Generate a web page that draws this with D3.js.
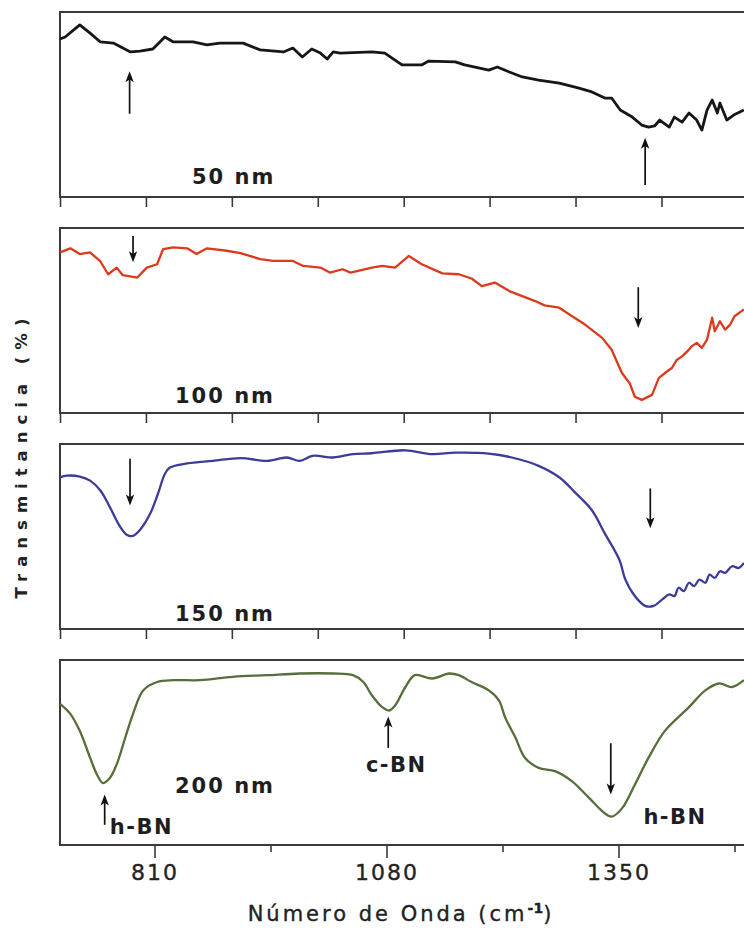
<!DOCTYPE html>
<html>
<head>
<meta charset="utf-8">
<script src="https://cdn.jsdelivr.net/npm/d3@7/dist/d3.min.js"></script>
<style>
  html, body { margin: 0; padding: 0; background: #ffffff; }
  svg { display: block; }
</style>
</head>
<body>
<script>
// ---------------- DATA ----------------
const thicknessLabels = ["50 nm", "100 nm", "150 nm", "200 nm"];
const seriesColors = ["#161616", "#dc3a1c", "#3c3c98", "#566e3a"];

// 50 nm
const wave50  = [700,706,723,735,747,762,782,793,808,822,832,855,871,886,913,933,960,971,982,993,1003,1011,1018,1026,1063,1078,1098,1121,1129,1160,1171,1199,1209,1223,1238,1257,1281,1304,1319,1334,1342,1352,1366,1377,1385,1392,1398,1409,1415,1424,1432,1441,1447,1453,1459,1465,1468,1476,1484,1496];
const trans50 = [85.4,86.5,93,88.6,83.8,83.2,78.4,78.9,80,86.5,83.8,83.8,82.2,83.2,83.2,79.5,78.4,80.5,75.7,80,77.8,74.6,78.4,77.8,78.4,77.8,71.4,71.4,73.5,73,71.4,68.6,70.3,67.6,64.9,63.2,61.6,58.9,56.8,53.5,53.5,47,43.2,38.9,37.8,38.4,41.6,37.8,43.2,40.5,45.4,41.6,36.2,47,52.4,45.4,50.8,41.6,44.3,47];

// 100 nm
const wave100  = [700,712,723,735,747,756,766,773,790,801,813,820,832,848,859,871,894,910,933,948,971,983,1003,1014,1029,1038,1063,1075,1090,1106,1121,1145,1164,1179,1191,1206,1223,1238,1253,1264,1281,1296,1311,1331,1342,1354,1363,1369,1377,1389,1397,1404,1412,1418,1424,1430,1435,1441,1447,1453,1459,1462,1468,1474,1480,1485,1496];
const trans100 = [86.8,89,85.9,86.8,81.9,75,78.6,74.5,73.2,78.6,80.4,88.6,89.5,89,85.9,89,87.7,86.4,83.2,82.2,82.2,79.5,78.6,75.9,77.7,75.9,78.6,79.5,78.6,84.9,80.4,75.5,75,72.7,68.6,70.5,65.9,63.2,60.5,58.2,56.9,52.3,47.8,40.6,34.2,21.6,16.1,8.8,7.1,9.8,19,21.6,24.3,28.8,30.6,33.3,36,37.9,35.2,39.7,51.5,44.2,49.6,45.1,47.8,52.3,56];

// 150 nm
const wave150  = [700,708,723,735,747,758,770,778,785,793,805,814,822,828,848,878,910,941,964,979,994,1018,1041,1063,1102,1133,1160,1199,1226,1257,1281,1299,1319,1334,1351,1358,1369,1381,1391,1401,1409,1415,1420,1426,1432,1438,1444,1451,1456,1462,1468,1474,1482,1490,1496];
const trans150 = [82,82.9,82.4,80.2,74.9,65.9,55.2,50.8,50.3,53.5,62.4,73.1,83.8,87.3,89.5,90.9,92.4,90.9,92.7,90.9,93.6,92.7,94.5,95,96.6,94.5,95.3,94.8,92.7,88.2,82,74,64.2,51.7,37.4,26.7,17.8,12.5,12.5,16,18.7,17.8,22.3,20.5,25,23.2,26.7,25,29.4,27.6,31.2,30.3,33.9,33,35.7];

// 200 nm
const wave200  = [700,712,723,735,743,750,758,766,776,785,797,813,832,863,901,941,979,1018,1041,1053,1063,1075,1083,1090,1102,1113,1133,1153,1164,1179,1199,1211,1218,1230,1241,1257,1276,1296,1316,1334,1342,1354,1369,1385,1404,1432,1451,1467,1482,1496];
const trans200 = [76.3,70.9,61.7,47.2,38.1,33.5,36.2,43.6,58.1,70.9,83.6,88.1,89.1,89.1,90.9,91.8,92.7,92.7,91.8,88.1,80.9,74.5,72.7,75.4,85.4,91.8,90,92.7,91.8,88.1,83.6,78.1,69,58.1,47.2,41.7,39.9,34.4,25.3,17.1,15.3,19.8,32.6,47.2,61.7,74.5,83.6,87.3,85.4,89.1];

// arrows: [panel, wavenumber, tail value, head value]
const arrowPanel = [0, 0, 1, 1, 2, 2, 3, 3, 3];
const arrowWave  = [781, 1381, 785, 1373, 781.5, 1387, 752, 1082, 1341];
const arrowTail  = [45, 6.5, 95.7, 68, 92, 76, 10.9, 52.5, 55];
const arrowHead  = [68, 32, 81.5, 46, 66.8, 54.5, 27.3, 69.5, 27.3];

// phase labels in bottom panel
const phaseText = ["h-BN", "c-BN", "h-BN"];
const phaseWave = [758, 1056, 1379];
const phaseVal  = [5.9, 39.3, 11.5];

const topTickValues = d3.range(700, 1501, 100);
const bottomTickValues = [810, 945, 1080, 1215, 1350, 1485];
const bottomTickLabels = [810, 1080, 1350];

const xLabel = "Número de Onda (cm";
const xLabelSup = "-1";
const yLabel = "Transmitancia (%)";

// ---------------- LAYOUT ----------------
const W = 744, H = 937;
const left = 60, right = 747.4;
const panelTop0 = 12, panelH = 185, panelStep = 216;

const svg = d3.select("body").append("svg").attr("width", W).attr("height", H);

const x = d3.scaleLinear().domain([700, 1500]).range([left, right]);

const waves = [wave50, wave100, wave150, wave200];
const trans = [trans50, trans100, trans150, trans200];
const labelX = [192, 175, 175, 175];
const labelOff = [172, 175, 177, 133];
const curves = [d3.curveLinear, d3.curveLinear, d3.curveCatmullRom, d3.curveCatmullRom];

const yScales = [];
for (let i = 0; i < 4; i++) {
  const top = panelTop0 + i * panelStep;
  const bottom = top + panelH;
  const y = d3.scaleLinear().domain([0, 100]).range([bottom, top]);
  yScales.push(y);
  const g = svg.append("g");

  // frame
  g.append("rect")
    .attr("x", left).attr("y", top)
    .attr("width", right - left + 5).attr("height", panelH)
    .attr("fill", "none").attr("stroke", "#3a3a3a").attr("stroke-width", 2);

  // curve
  const pts = waves[i].map((w, k) => [w, trans[i][k]]);
  const line = d3.line().x(d => x(d[0])).y(d => y(d[1])).curve(curves[i]);
  g.append("path").datum(pts)
    .attr("d", line)
    .attr("fill", "none")
    .attr("stroke", seriesColors[i])
    .attr("stroke-width", i === 0 ? 2.8 : 2.3)
    .attr("stroke-linejoin", "round");

  // axis
  const isBottom = i === 3;
  const axis = d3.axisBottom(x)
    .tickValues(isBottom ? bottomTickValues : topTickValues)
    .tickSize(isBottom ? 13 : 10)
    .tickFormat(d => (isBottom && bottomTickLabels.includes(d)) ? String(d) : "");
  const ag = g.append("g").attr("transform", `translate(0,${bottom})`).call(axis);
  ag.select(".domain").remove();
  ag.selectAll(".tick line").attr("stroke", "#3a3a3a").attr("stroke-width", 1.6);
  if (isBottom) {
    ag.selectAll(".tick").filter(d => !bottomTickLabels.includes(d))
      .select("line").attr("y2", 7);
    ag.selectAll(".tick text")
      .attr("y", 35).attr("dy", 0)
      .attr("fill", "#222")
      .style("font-family", "'DejaVu Sans', Verdana, sans-serif")
      .style("font-size", "22px")
      .style("letter-spacing", "2px")
      .attr("stroke", "#222").attr("stroke-width", 0.35);
  }

  // thickness label
  g.append("text")
    .attr("x", labelX[i]).attr("y", top + labelOff[i])
    .text(thicknessLabels[i])
    .attr("fill", "#1e1e1e")
    .style("font-family", "'DejaVu Sans', Verdana, sans-serif")
    .style("font-weight", "bold")
    .style("font-size", "21px")
    .style("letter-spacing", "2px");
}

// arrows
arrowWave.forEach((w, k) => {
  const y = yScales[arrowPanel[k]];
  const xx = x(w);
  const y0 = y(arrowTail[k]);
  const y1 = y(arrowHead[k]);
  const dir = y1 < y0 ? -1 : 1; // -1 up
  const headLen = 11, headHalf = 4.2;
  svg.append("line")
    .attr("x1", xx).attr("x2", xx)
    .attr("y1", y0).attr("y2", y1 - dir * headLen * 0.6)
    .attr("stroke", "#111").attr("stroke-width", 1.7);
  svg.append("path")
    .attr("d", `M${xx},${y1} L${xx - headHalf},${y1 - dir * headLen} L${xx},${y1 - dir * headLen * 0.75} L${xx + headHalf},${y1 - dir * headLen} Z`)
    .attr("fill", "#111");
});

// phase labels
phaseText.forEach((t, k) => {
  svg.append("text")
    .attr("x", x(phaseWave[k])).attr("y", yScales[3](phaseVal[k]))
    .text(t)
    .attr("fill", "#1e1e1e")
    .style("font-family", "'DejaVu Sans', Verdana, sans-serif")
    .style("font-weight", "bold")
    .style("font-size", "21px")
    .style("letter-spacing", "1.5px");
});

// x axis title
const xt = svg.append("text")
  .attr("x", 401).attr("y", 921)
  .attr("text-anchor", "middle")
  .attr("fill", "#222")
  .attr("stroke", "#222").attr("stroke-width", 0.35)
  .style("font-family", "'DejaVu Sans', Verdana, sans-serif")
  .style("font-size", "21px")
  .style("letter-spacing", "3px");
xt.append("tspan").text(xLabel);
xt.append("tspan").text(xLabelSup).attr("dy", -8).style("font-size", "14px").style("font-weight", "bold").style("letter-spacing", "0px");
xt.append("tspan").text(")").attr("dy", 8);

// y axis title
svg.append("text")
  .attr("transform", "translate(27,455) rotate(-90)")
  .attr("text-anchor", "middle")
  .attr("fill", "#222")
  .style("font-family", "'DejaVu Sans', Verdana, sans-serif")
  .style("font-weight", "bold")
  .style("font-size", "16.5px")
  .style("letter-spacing", "7px")
  .text(yLabel);
</script>
</body>
</html>
